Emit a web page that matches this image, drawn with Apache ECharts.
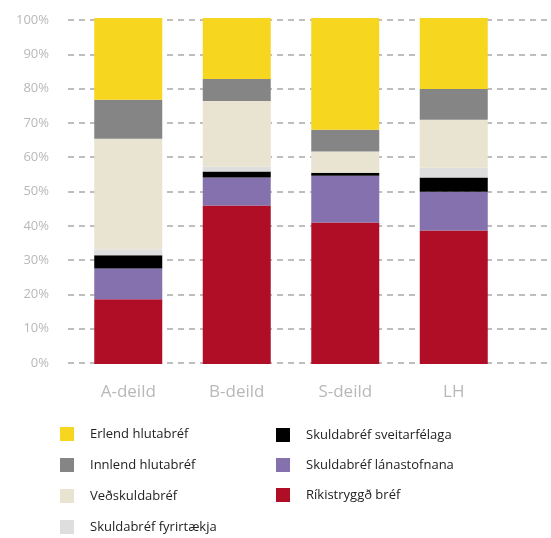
<!DOCTYPE html>
<html>
<head>
<meta charset="utf-8">
<script src="https://cdn.jsdelivr.net/npm/echarts@6/dist/echarts.min.js"></script>
<style>
  html, body { margin: 0; padding: 0; background: #fff; }
  #chart { width: 551px; height: 538px; }
</style>
</head>
<body>
<div id="chart"></div>
<script>
  const categories = ['A-deild', 'B-deild', 'S-deild', 'LH']
  const yTicks = [0, 10, 20, 30, 40, 50, 60, 70, 80, 90, 100]

  // hlutföll í %, neðst til efst
  const rikistryggd = [18.7, 45.8, 40.9, 38.6]
  const lanastofnana = [8.9, 8.1, 13.5, 11.2]
  const sveitarfelaga = [3.8, 1.7, 0.9, 4.1]
  const fyrirtaekja = [1.7, 1.4, 0.0, 2.8]
  const vedskuldabref = [32.0, 19.0, 6.1, 13.9]
  const innlend = [11.3, 6.4, 6.3, 8.9]
  const erlend = [23.6, 17.6, 32.3, 20.5]

  const seriesDefs = [
    {name: 'Ríkistryggð bréf', data: rikistryggd, color: '#b00e26'},
    {name: 'Skuldabréf lánastofnana', data: lanastofnana, color: '#8471ae'},
    {name: 'Skuldabréf sveitarfélaga', data: sveitarfelaga, color: '#000000'},
    {name: 'Skuldabréf fyrirtækja', data: fyrirtaekja, color: '#dedede'},
    {name: 'Veðskuldabréf', data: vedskuldabref, color: '#e9e3d1'},
    {name: 'Innlend hlutabréf', data: innlend, color: '#858585'},
    {name: 'Erlend hlutabréf', data: erlend, color: '#f7d620'}
  ]

  const font = '"Open Sans", "Noto Sans", sans-serif'
  let myChart = echarts.init(document.getElementById('chart'))

  const legendBase = {
    orient: 'vertical',
    icon: 'rect',
    itemWidth: 14,
    itemHeight: 14,
    padding: 0,
    height: 115,
    selectedMode: false,
    textStyle: {color: '#222', fontSize: 13, lineHeight: 14, fontFamily: font, padding: [0, 0, 0, 11]}
  }

  myChart.setOption({
    animation: false,
    grid: [
      // rist fyrir strikalínur, nær út að hægri brún
      {left: 68, right: 2, top: 20, height: 343},
      // rist fyrir súlurnar
      {left: 74, right: 43, top: 18, height: 346}
    ],
    xAxis: [
      {gridIndex: 0, type: 'value', min: 0, max: 1, show: false},
      {
        gridIndex: 1,
        type: 'category',
        data: categories,
        axisLine: {show: false},
        axisTick: {show: false},
        axisLabel: {color: '#b8b8b8', fontSize: 17, fontFamily: font, margin: 20}
      }
    ],
    yAxis: [
      {
        gridIndex: 0,
        type: 'value',
        min: 0,
        max: 100,
        interval: 10,
        axisLine: {show: false},
        axisTick: {show: false},
        axisLabel: {
          color: '#b8b8b8',
          fontSize: 13,
          fontFamily: font,
          margin: 19,
          formatter: v => yTicks.includes(v) ? v + '%' : ''
        },
        splitLine: {lineStyle: {color: '#a9a9a9', width: 1.5, type: [6, 5]}}
      },
      {gridIndex: 1, type: 'value', min: 0, max: 100, show: false}
    ],
    legend: [
      Object.assign({}, legendBase, {
        left: 60, top: 427, itemGap: 17,
        data: ['Erlend hlutabréf', 'Innlend hlutabréf', 'Veðskuldabréf', 'Skuldabréf fyrirtækja']
      }),
      Object.assign({}, legendBase, {
        left: 276, top: 428, itemGap: 16,
        data: ['Skuldabréf sveitarfélaga', 'Skuldabréf lánastofnana', 'Ríkistryggð bréf']
      })
    ],
    series: seriesDefs.map(s => ({
      name: s.name,
      type: 'bar',
      stack: 'total',
      xAxisIndex: 1,
      yAxisIndex: 1,
      barWidth: 68,
      data: s.data,
      itemStyle: {color: s.color}
    }))
  })
</script>
</body>
</html>
